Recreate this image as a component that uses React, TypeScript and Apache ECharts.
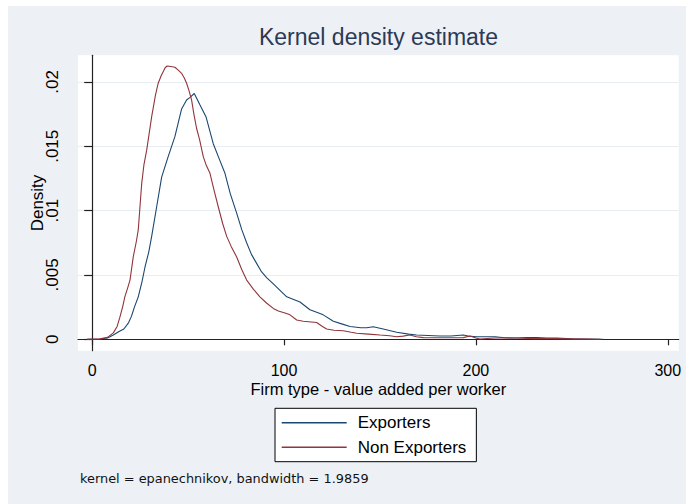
import React, { useEffect, useRef } from "react";
import * as echarts from "echarts";

const exportersX = [-2.6, 4, 8, 11, 14, 16.5, 19, 20.5, 22, 24, 26, 27.5, 29.5, 31, 33.6, 36.2, 39.6, 43.1, 46.6, 49.2, 51, 53.2, 56.2, 59.3, 63.1, 66, 69.2, 72, 75.3, 78, 80.5, 83, 85.7, 88, 90.9, 94.4, 97.9, 101.4, 105, 108.3, 113.5, 117, 120.4, 125.7, 130, 134.4, 140, 143.1, 146.5, 151.7, 158.7, 165, 169.1, 175, 181.3, 187, 193.4, 196, 200.4, 205, 210, 215, 221.3, 226, 231.7, 237, 242.1, 250, 258, 266.4];
const exportersY = [0, 0.00002, 0.0001, 0.00033, 0.0006, 0.0008, 0.0013, 0.0018, 0.0025, 0.0033, 0.0045, 0.0056, 0.0068, 0.008, 0.0103, 0.0126, 0.0142, 0.01575, 0.0179, 0.0186, 0.0188, 0.0191, 0.0182, 0.0173, 0.0152, 0.0141, 0.0129, 0.0113, 0.0098, 0.0085, 0.0075, 0.0066, 0.0059, 0.0053, 0.0048, 0.0043, 0.0038, 0.0033, 0.0031, 0.0029, 0.0023, 0.0021, 0.0019, 0.0014, 0.0012, 0.001, 0.0009, 0.0009, 0.00098, 0.0008, 0.00055, 0.0004, 0.00033, 0.0003, 0.00026, 0.00026, 0.00033, 0.00025, 0.0002, 0.0002, 0.0002, 0.00012, 0.0001, 0.00013, 0.00013, 0.0001, 0.0001, 0.00003, 0.00002, 0];

const nonExportersX = [-2.6, 4, 8, 11, 13, 14.4, 16, 17, 18.5, 19.7, 21.4, 23, 24, 25, 25.8, 27, 28.4, 30, 31, 33, 34.4, 36, 37, 38, 39.1, 41, 43.1, 45, 46.6, 48, 49.2, 50.5, 51.8, 53, 54.4, 56, 57.9, 59.5, 61.4, 63.5, 65.7, 68, 70.1, 72.5, 75.3, 78, 80.5, 84, 87.4, 91, 94.4, 97, 100.5, 103.1, 106.6, 110, 117, 120, 122.2, 126, 130.9, 135, 137.9, 144, 150, 155, 158.7, 162, 165.6, 169, 172.6, 180, 186, 193.4, 196.9, 200, 202.1, 210, 221, 230, 240, 250, 264.7];
const nonExportersY = [0, 0.00003, 0.00015, 0.0005, 0.001, 0.0017, 0.0026, 0.0033, 0.004, 0.0046, 0.0064, 0.0076, 0.0085, 0.0105, 0.0121, 0.0136, 0.0147, 0.0163, 0.0173, 0.019, 0.0199, 0.0205, 0.0208, 0.0211, 0.02124, 0.0212, 0.02114, 0.0209, 0.02067, 0.0203, 0.0199, 0.0193, 0.0186, 0.0175, 0.0164, 0.0155, 0.0142, 0.0135, 0.0129, 0.0116, 0.0103, 0.009, 0.008, 0.0072, 0.0064, 0.0054, 0.0046, 0.0039, 0.0033, 0.0028, 0.0024, 0.0022, 0.00205, 0.0019, 0.0015, 0.0014, 0.0013, 0.001, 0.0008, 0.0007, 0.00067, 0.00055, 0.00047, 0.0004, 0.00033, 0.00028, 0.0002, 0.00025, 0.00033, 0.0002, 0.00013, 0.00012, 0.00012, 0.00013, 0.00026, 0.0001, 0.00002, 0.0001, 0.0001, 0.00005, 0.00005, 0.00003, 0];

const xTicks = [0, 100, 200, 300];
const yTicks = [0, 0.005, 0.01, 0.015, 0.02];
const seriesNames = ["Exporters", "Non Exporters"];

const FONT = "'Liberation Sans', Arial, sans-serif";

export default function App() {
  const ref = useRef<HTMLDivElement>(null);
  useEffect(() => {
    document.body.style.margin = "0";
    if (!ref.current) return;
    const chart = echarts.init(ref.current, null, { renderer: "svg" });
    const exData = exportersX.map((x, i) => [x, exportersY[i]]);
    const neData = nonExportersX.map((x, i) => [x, nonExportersY[i]]);
    chart.setOption({
      animation: false,
      title: {
        text: "Kernel density estimate",
        left: 370.5,
        top: 19,
        padding: 0,
        textAlign: "center",
        textStyle: { fontSize: 23, fontWeight: "normal", color: "#2b3a55", fontFamily: FONT },
      },
      grid: {
        left: 70,
        right: 7.3,
        top: 49.3,
        bottom: 153.3,
        show: true,
        backgroundColor: "#ffffff",
        borderWidth: 0,
      },
      legend: {
        orient: "vertical",
        left: 267,
        top: 402.3,
        padding: [6, 10, 6, 6.7],
        backgroundColor: "#ffffff",
        borderColor: "#000000",
        borderWidth: 1,
        borderRadius: 0,
        icon: "rect",
        itemWidth: 65,
        itemHeight: 1.4,
        itemGap: 7.4,
        textStyle: { fontSize: 17, color: "#000", fontFamily: FONT, padding: [0, 0, 0, 6] },
        data: seriesNames,
      },
      xAxis: {
        type: "value",
        min: -7.4,
        max: 305.7,
        name: "Firm type - value added per worker",
        nameLocation: "middle",
        nameGap: 32,
        nameMoveOverlap: false,
        nameTextStyle: { fontSize: 16.5, lineHeight: 13, color: "#000", fontFamily: FONT },
        axisLine: { show: true, lineStyle: { color: "#222", width: 1.2 } },
        axisTick: { show: true, length: 6, customValues: xTicks, lineStyle: { color: "#222", width: 1.2 } },
        axisLabel: { customValues: xTicks, fontSize: 16, lineHeight: 13, color: "#000", fontFamily: FONT, margin: 13 },
        splitLine: { show: false },
      },
      yAxis: {
        type: "value",
        min: -0.000886,
        max: 0.02207,
        name: "Density",
        nameLocation: "middle",
        nameGap: 32,
        nameMoveOverlap: false,
        nameTextStyle: { fontSize: 17, color: "#000", fontFamily: FONT },
        axisLine: { show: true, lineStyle: { color: "#222", width: 1.2 } },
        axisTick: { show: true, length: 8, customValues: yTicks, lineStyle: { color: "#222", width: 1.2 } },
        axisLabel: {
          customValues: yTicks,
          rotate: 90,
          fontSize: 17,
          color: "#000",
          fontFamily: FONT,
          margin: 17,
          formatter: (v: number) => (v === 0 ? "0" : String(v).replace(/^0/, "")),
        },
        splitLine: { show: true, lineStyle: { color: "#e8edf3", width: 1 } },
      },
      series: [
        {
          name: seriesNames[0],
          type: "line",
          data: exData,
          symbol: "none",
          lineStyle: { color: "#1a476f", width: 1.1 },
          itemStyle: { color: "#1a476f" },
        },
        {
          name: seriesNames[1],
          type: "line",
          data: neData,
          symbol: "none",
          lineStyle: { color: "#90353b", width: 1.1 },
          itemStyle: { color: "#90353b" },
        },
      ],
      graphic: [
        {
          type: "text",
          left: 72,
          top: 466,
          style: {
            text: "kernel = epanechnikov, bandwidth = 1.9859",
            fontSize: 12.9,
            fontFamily: "'DejaVu Sans', Verdana, sans-serif",
            fill: "#111",
          },
        },
      ],
    });
    return () => chart.dispose();
  }, []);
  return (
    <div style={{ width: 686, height: 504, background: "#ffffff", position: "relative" }}>
      <div
        ref={ref}
        style={{ position: "absolute", left: 8, top: 6, width: 678, height: 498, background: "#edf1f6" }}
      />
    </div>
  );
}
